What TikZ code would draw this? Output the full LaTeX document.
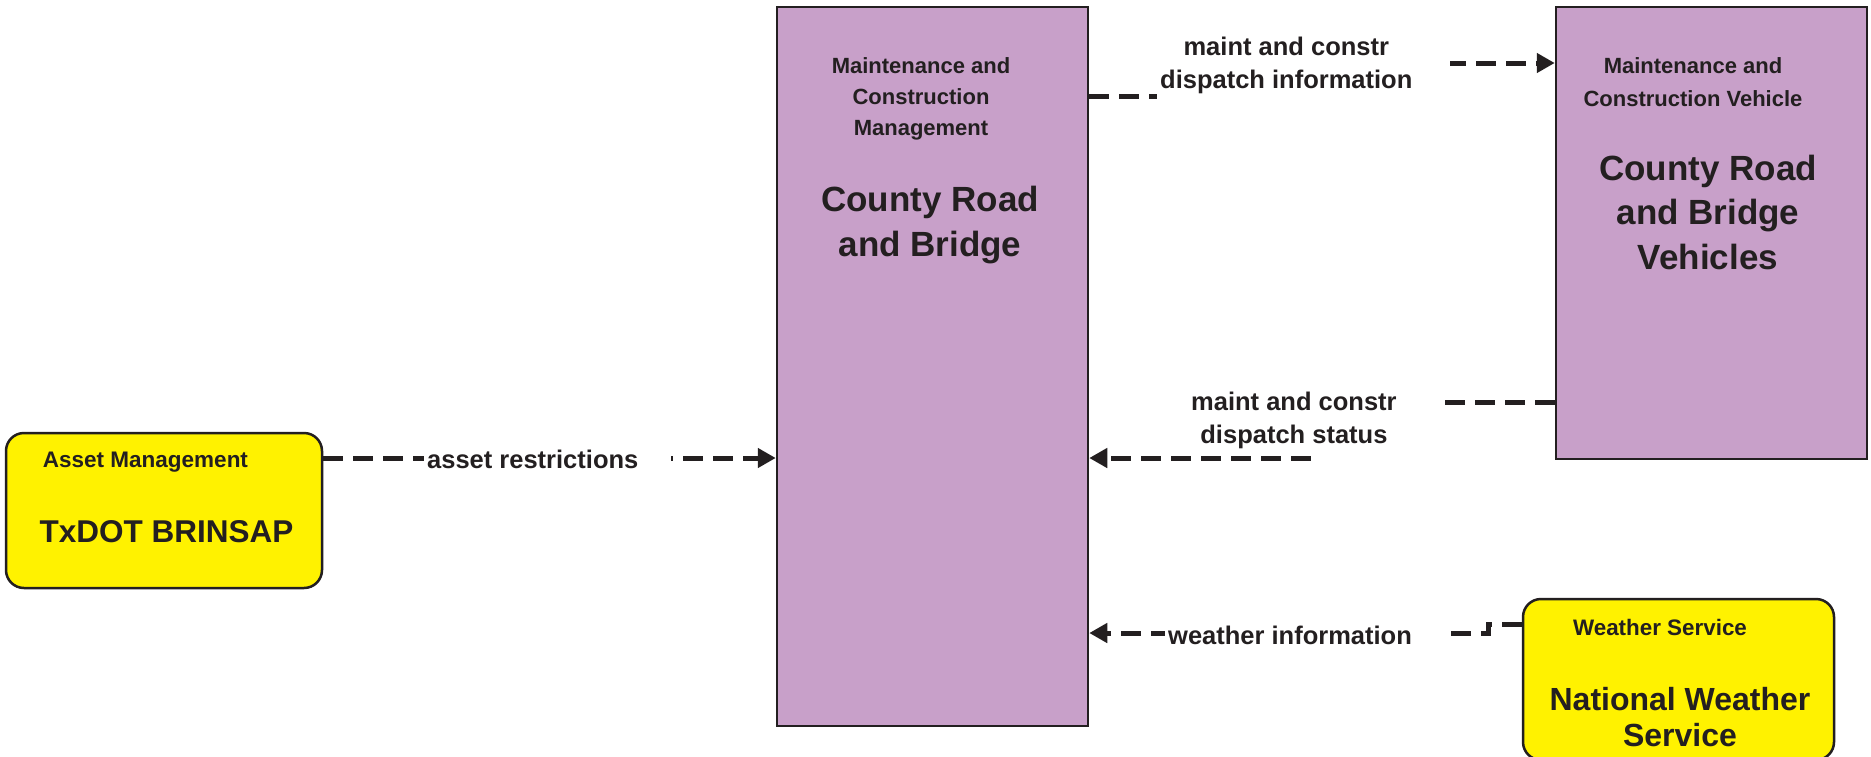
\documentclass[tikz,border=0pt]{standalone}
\usepackage{fontspec}
\setmainfont{Liberation Sans}
\usetikzlibrary{arrows.meta}
\definecolor{boxpurple}{RGB}{200,160,201}
\definecolor{boxyellow}{RGB}{255,242,0}
\definecolor{ink}{RGB}{35,31,32}
\newcommand{\mlines}[1]{\begin{tabular}[t]{@{}c@{}}#1\end{tabular}}
\begin{document}
\begin{tikzpicture}[x=1pt,y=-1pt,
  sysbox/.style={draw=ink, line width=2.5pt, fill=boxpurple, rectangle, inner sep=0pt},
  extbox/.style={draw=ink, line width=2.5pt, fill=boxyellow, rectangle, rounded corners=18pt, inner sep=0pt},
  txt/.style 2 args={font=\bfseries\fontsize{#1}{#2}\selectfont, text=ink, inner sep=0pt, anchor=base},
  flowlabel/.style={font=\bfseries\fontsize{25.5}{33}\selectfont, text=ink, fill=white, inner xsep=3pt, inner ysep=2pt, anchor=base west},
  flow/.style={draw=ink, line width=5pt, dash pattern=on 20pt off 10pt},
  tip/.style={-{Triangle[length=18pt,width=19pt]}}
]
\useasboundingbox (0,0) rectangle (1871,756);
\fill[white] (0,0) rectangle (1871,756);

% boxes
\node[sysbox, minimum width=311pt, minimum height=719pt] (mcm) at (932.5,366.5) {};
\node[sysbox, minimum width=311pt, minimum height=452pt] (veh) at (1711.5,233) {};
\node[extbox, minimum width=316pt, minimum height=155pt] (brinsap) at (164,510.5) {};
\node[extbox, minimum width=311pt, minimum height=161pt] (nws) at (1678.5,679.5) {};

% box texts
\node[txt={22}{31}] (mcm-role) at (921,73) {\mlines{Maintenance and\\Construction\\Management}};
\node[txt={35}{45}] (mcm-name) at (930,211) {\mlines{County Road\\and Bridge}};
\node[txt={22}{33}] (veh-role) at (1693,73) {\mlines{Maintenance and\\Construction Vehicle}};
\node[txt={35}{44.5}] (veh-name) at (1708,180) {\mlines{County Road\\and Bridge\\Vehicles}};
\node[txt={22.5}{30}] (brinsap-role) at (145.5,467) {Asset Management};
\node[txt={31.5}{38}] (brinsap-name) at (166.5,542) {TxDOT BRINSAP};
\node[txt={22.4}{30}] (nws-role) at (1660,635) {Weather Service};
\node[txt={32}{36}] (nws-name) at (1680,710) {\mlines{National Weather\\Service}};

% connectors
\draw[flow, tip] (brinsap.east |- 0,458) -- (mcm.west |- 0,458);
\draw[flow, tip] (mcm.east |- 0,96) -- (1290,96) -- (1290,63) -- (veh.west |- 0,63);
\draw[flow, tip] (veh.west |- 0,402) -- (1312,402) -- (1312,458) -- (mcm.east |- 0,458);
\draw[flow, tip] (nws.west |- 0,624) -- (1488,624) -- (1488,633) -- (mcm.east |- 0,633);

% connector labels
\node[flowlabel] (l-asset) at (424,468) {asset restrictions\hspace*{30pt}};
\node[flowlabel] (l-dinfo) at (1157,55) {\mlines{maint and constr\\dispatch information}\hspace*{35pt}};
\node[flowlabel] (l-dstat) at (1188,410) {\mlines{maint and constr\\dispatch status}\hspace*{43pt}};
\node[flowlabel] (l-weather) at (1165,644) {weather information\hspace*{36pt}};
\end{tikzpicture}
\end{document}
